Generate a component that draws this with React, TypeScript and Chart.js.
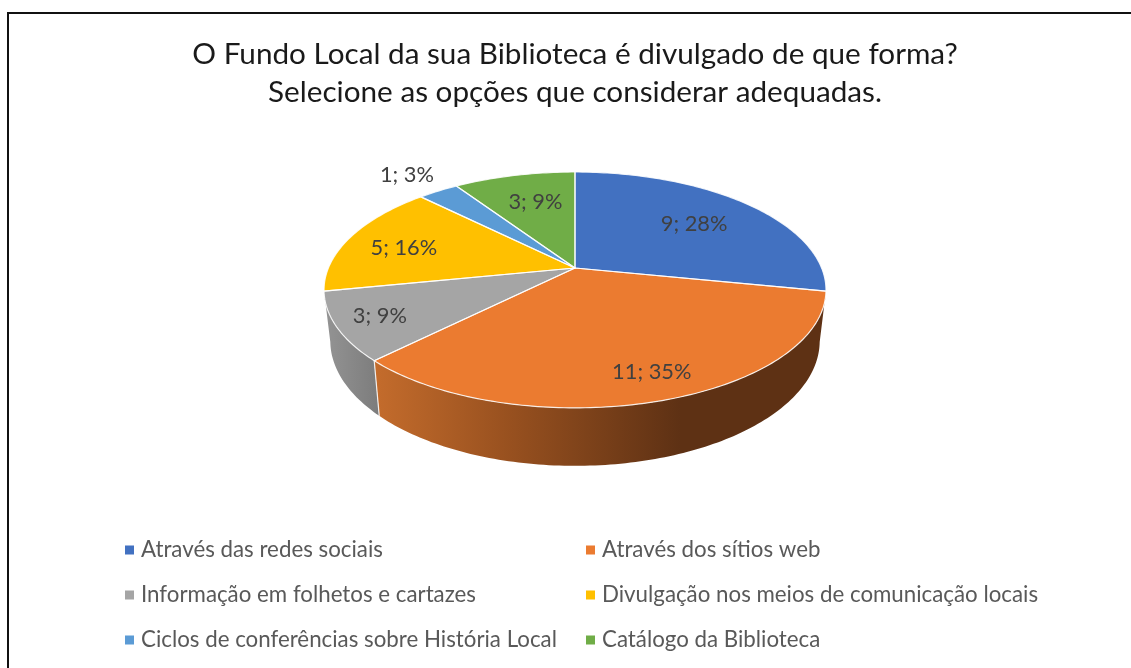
import { useEffect, useRef } from "react";
import { Chart, registerables } from "chart.js";

Chart.register(...registerables);

const titleLines = [
  "O Fundo Local da sua Biblioteca é divulgado de que forma?",
  "Selecione as opções que considerar adequadas.",
];
const categories = [
  "Através das redes sociais",
  "Através dos sítios web",
  "Informação em folhetos e cartazes",
  "Divulgação nos meios de comunicação locais",
  "Ciclos de conferências sobre História Local",
  "Catálogo da Biblioteca",
];
const counts = [9, 11, 3, 5, 1, 3];
const percentLabels = ["28%", "35%", "9%", "16%", "3%", "9%"];
const sliceColors = ["#4271C1", "#EB7B30", "#A5A5A5", "#FFC000", "#5B9BD5", "#70AD47"];

const FONT = "Lato, 'Open Sans', sans-serif";

// Perspective model of the tilted disc
const CX = 575;
const CY = 268;
const RX = 246.6;
const AY = 64;
const K = -0.186;
const BOTTOM_Y = 408;
const WALL_BOTTOM_Y = 466;
const WALL_STRETCH = 1.06;
const WALL_SCALE_X = 0.975;

const labelRadius = [0.65, 0.8, 0.8, 0.7, 1.2, 0.7];
const labelNudge = [[4, 0], [10, 2], [-8, 2], [-12, 2], [-8, -3], [5, 2]];

function project(theta: number, r = 1) {
  const u = Math.sin(theta) * r;
  const v = -Math.cos(theta) * r;
  const d = 1 + K * v;
  return { x: CX + (RX * u) / d, y: (CY + AY * v) / d };
}
function projectBase(theta: number) {
  const p = project(theta);
  return {
    x: CX + (p.x - CX) * WALL_SCALE_X,
    y: WALL_BOTTOM_Y + (p.y - BOTTOM_Y) * WALL_STRETCH,
  };
}
function samples(a: number, b: number) {
  const n = Math.max(2, Math.ceil(Math.abs(b - a) / (Math.PI / 180)));
  const out: number[] = [];
  for (let i = 0; i <= n; i++) out.push(a + ((b - a) * i) / n);
  return out;
}

const piePlugin = {
  id: "tiltedPie",
  beforeDatasetDraw(chart: any, args: any) {
    const ctx = chart.ctx;
    const arcs = args.meta.data;
    const angles = arcs.map((el: any) => [el.startAngle + Math.PI / 2, el.endAngle + Math.PI / 2]);
    ctx.save();
    ctx.lineJoin = "round";

    // Front walls: slices whose rim faces the viewer
    angles.forEach(([a0, a1]: number[], i: number) => {
      if (i !== 1 && i !== 2) return;
      const from = a0;
      const to = a1;
      ctx.beginPath();
      samples(from, to).forEach((t, k) => {
        const p = project(t);
        if (k === 0) ctx.moveTo(p.x, p.y);
        else ctx.lineTo(p.x, p.y);
      });
      samples(to, from).forEach((t) => {
        const p = projectBase(t);
        ctx.lineTo(p.x, p.y);
      });
      ctx.closePath();
      if (i === 1) {
        const g = ctx.createLinearGradient(374, 0, 680, 0);
        g.addColorStop(0, "#C46C2C");
        g.addColorStop(0.45, "#97501F");
        g.addColorStop(1, "#5E3114");
        ctx.fillStyle = g;
      } else {
        const g = ctx.createLinearGradient(324, 0, 379, 0);
        g.addColorStop(0, "#949494");
        g.addColorStop(1, "#7C7C7C");
        ctx.fillStyle = g;
      }
      ctx.fill();
    });
    // Seam between the two visible walls
    const seam = angles[1][1];
    const s0 = project(seam);
    const s1 = projectBase(seam);
    ctx.strokeStyle = "rgba(255,255,255,0.85)";
    ctx.lineWidth = 1.2;
    ctx.beginPath();
    ctx.moveTo(s0.x, s0.y);
    ctx.lineTo(s1.x, s1.y);
    ctx.stroke();

    // Top face
    angles.forEach(([a0, a1]: number[], i: number) => {
      ctx.beginPath();
      ctx.moveTo(CX, CY);
      samples(a0, a1).forEach((t) => {
        const p = project(t);
        ctx.lineTo(p.x, p.y);
      });
      ctx.closePath();
      ctx.fillStyle = chart.data.datasets[0].backgroundColor[i];
      ctx.fill();
    });
    ctx.strokeStyle = "rgba(255,255,255,0.85)";
    ctx.lineWidth = 1.2;
    angles.forEach(([a0, a1]: number[]) => {
      ctx.beginPath();
      ctx.moveTo(CX, CY);
      samples(a0, a1).forEach((t) => {
        const p = project(t);
        ctx.lineTo(p.x, p.y);
      });
      ctx.closePath();
      ctx.stroke();
    });

    // Data labels
    ctx.fillStyle = "#404040";
    ctx.font = `21.8px ${FONT}`;
    ctx.textAlign = "center";
    ctx.textBaseline = "middle";
    angles.forEach(([a0, a1]: number[], i: number) => {
      const p = project((a0 + a1) / 2, labelRadius[i]);
      ctx.fillText(
        `${chart.data.datasets[0].data[i]}; ${percentLabels[i]}`,
        p.x + labelNudge[i][0],
        p.y + labelNudge[i][1],
      );
    });
    ctx.restore();
    return false;
  },
  afterDraw(chart: any) {
    const ctx = chart.ctx;
    const colX = [125, 586];
    const rowY = [550, 595, 640];
    ctx.save();
    ctx.font = `22.3px ${FONT}`;
    ctx.textAlign = "left";
    ctx.textBaseline = "middle";
    chart.data.labels.forEach((label: string, i: number) => {
      const x = colX[i % 2];
      const y = rowY[Math.floor(i / 2)];
      ctx.fillStyle = chart.data.datasets[0].backgroundColor[i];
      ctx.fillRect(x, y - 4.5, 9, 9);
      ctx.fillStyle = "#595959";
      ctx.fillText(label, x + 16, y);
    });
    ctx.restore();
  },
};

export default function App() {
  const ref = useRef<HTMLCanvasElement>(null);
  useEffect(() => {
    const chart = new Chart(ref.current!, {
      type: "pie",
      data: {
        labels: categories,
        datasets: [{ data: counts, backgroundColor: sliceColors, borderWidth: 0 }],
      },
      options: {
        animation: false,
        responsive: false,
        layout: { padding: { left: 19, top: 35, right: 0, bottom: 0 } },
        plugins: {
          legend: { display: false },
          tooltip: { enabled: false },
          title: {
            display: true,
            text: titleLines,
            color: "#1a1a1a",
            font: { family: FONT, size: 29.7, weight: "normal", lineHeight: 1.28 },
            padding: 0,
          },
        },
      },
      plugins: [piePlugin],
    } as any);
    return () => chart.destroy();
  }, []);
  return (
    <div style={{ position: "fixed", inset: 0, overflow: "hidden", background: "#fff" }}>
      <div
        style={{
          position: "absolute",
          left: 7,
          top: 12,
          width: 1300,
          height: 900,
          border: "2px solid #111",
        }}
      />
      <canvas ref={ref} width={1131} height={668} style={{ position: "absolute", left: 0, top: 0 }} />
    </div>
  );
}
